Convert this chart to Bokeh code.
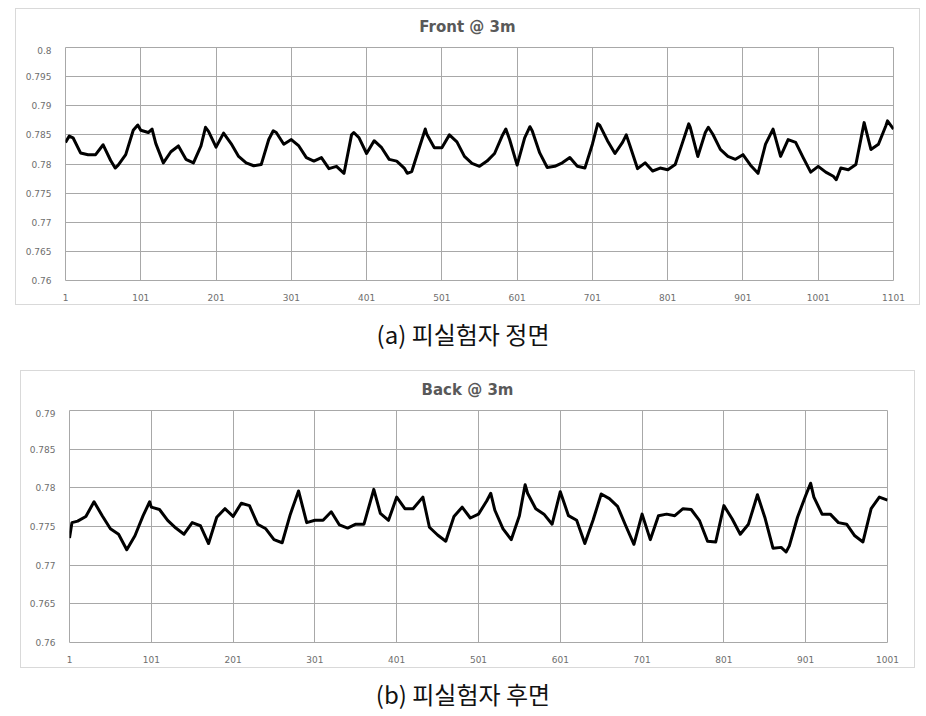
from bokeh.plotting import figure
from bokeh.models import Range1d, FixedTicker, CustomJSTickFormatter, Div
from bokeh.layouts import column
from bokeh.embed import file_html
from bokeh.resources import INLINE

# ---------------- data ----------------
front_title = "Front @ 3m"
front_caption = "(a) 피실험자 정면"
front_x = [1, 6, 11, 21, 31, 41, 51, 61, 67, 71, 81, 91, 97, 101, 111, 116, 121, 131, 141, 151,
           161, 171, 181, 187, 191, 201, 211, 221, 231, 241, 251, 261, 271, 277, 281, 291, 301,
           311, 321, 331, 341, 351, 361, 371, 381, 384, 391, 401, 411, 421, 431, 441, 451, 455,
           461, 471, 479, 481, 491, 501, 511, 521, 531, 541, 551, 561, 571, 581, 586, 591, 601,
           611, 618, 621, 631, 641, 651, 661, 671, 681, 691, 701, 708, 711, 721, 731, 741, 746,
           751, 761, 771, 781, 791, 801, 811, 821, 829, 831, 841, 851, 855, 861, 871, 881, 891,
           901, 911, 921, 931, 941, 951, 961, 971, 981, 991, 1001, 1011, 1021, 1025, 1031, 1041,
           1051, 1062, 1071, 1081, 1091, 1093, 1101]
front_y = [0.7837, 0.7848, 0.7845, 0.7819, 0.7816, 0.7816, 0.7833, 0.7806, 0.7793, 0.7798,
           0.7816, 0.7858, 0.7867, 0.7858, 0.7854, 0.7860, 0.7835, 0.7802, 0.7821, 0.7831,
           0.7808, 0.7802, 0.7831, 0.7863, 0.7856, 0.7829, 0.7853, 0.7835, 0.7813, 0.7802,
           0.7797, 0.7799, 0.7842, 0.7857, 0.7854, 0.7834, 0.7842, 0.7831, 0.7811, 0.7805,
           0.7811, 0.7792, 0.7796, 0.7784, 0.7850, 0.7854, 0.7845, 0.7818, 0.7840, 0.7828,
           0.7808, 0.7805, 0.7793, 0.7784, 0.7787, 0.7828, 0.7860, 0.7851, 0.7828, 0.7828,
           0.7850, 0.7838, 0.7813, 0.7801, 0.7796, 0.7805, 0.7818, 0.7848, 0.7860, 0.7842,
           0.7798, 0.7845, 0.7864, 0.7857, 0.7819, 0.7794, 0.7796, 0.7802, 0.7811, 0.7796,
           0.7793, 0.7834, 0.7869, 0.7866, 0.7840, 0.7818, 0.7837, 0.7850, 0.7831, 0.7792,
           0.7802, 0.7788, 0.7793, 0.7790, 0.7799, 0.7838, 0.7869, 0.7863, 0.7813, 0.7854,
           0.7863, 0.7851, 0.7825, 0.7813, 0.7808, 0.7816, 0.7798, 0.7784, 0.7834, 0.7860,
           0.7813, 0.7842, 0.7837, 0.7811, 0.7786, 0.7796, 0.7786, 0.7779, 0.7773, 0.7793,
           0.7790, 0.7799, 0.7871, 0.7825, 0.7834, 0.7866, 0.7874, 0.7860]
front_xticks = [1, 101, 201, 301, 401, 501, 601, 701, 801, 901, 1001, 1101]
front_yticks = [0.76, 0.765, 0.77, 0.775, 0.78, 0.785, 0.79, 0.795, 0.8]

back_title = "Back @ 3m"
back_caption = "(b) 피실험자 후면"
back_x = [1, 4, 11, 21, 31, 41, 51, 61, 71, 81, 91, 99, 101, 111, 121, 131, 141, 151, 161, 171,
          181, 191, 201, 211, 221, 231, 241, 251, 261, 271, 281, 291, 301, 311, 321, 331, 341,
          351, 361, 373, 381, 391, 401, 411, 421, 433, 441, 451, 461, 471, 481, 491, 501, 511,
          516, 521, 531, 541, 551, 558, 561, 571, 581, 591, 601, 611, 621, 631, 641, 651, 661,
          671, 681, 691, 701, 711, 721, 731, 741, 751, 761, 771, 781, 791, 801, 811, 821, 831,
          842, 851, 861, 871, 877, 881, 891, 901, 907, 911, 921, 931, 941, 951, 961, 971, 981,
          991, 1001]
back_y = [0.7735, 0.7755, 0.7757, 0.7763, 0.7782, 0.7764, 0.7747, 0.7740, 0.7720, 0.7738,
          0.7764, 0.7782, 0.7775, 0.7772, 0.7758, 0.7748, 0.7740, 0.7755, 0.7751, 0.7728,
          0.7762, 0.7773, 0.7763, 0.7780, 0.7777, 0.7753, 0.7747, 0.7733, 0.7729, 0.7766,
          0.7796, 0.7755, 0.7758, 0.7758, 0.7769, 0.7752, 0.7748, 0.7753, 0.7753, 0.7798,
          0.7767, 0.7758, 0.7788, 0.7773, 0.7773, 0.7788, 0.7749, 0.7739, 0.7731, 0.7763,
          0.7775, 0.7761, 0.7766, 0.7783, 0.7793, 0.7771, 0.7747, 0.7733, 0.7764, 0.7804,
          0.7793, 0.7773, 0.7766, 0.7753, 0.7795, 0.7764, 0.7758, 0.7728, 0.7758, 0.7792,
          0.7786, 0.7776, 0.7751, 0.7727, 0.7766, 0.7733, 0.7764, 0.7766, 0.7764, 0.7773,
          0.7772, 0.7758, 0.7731, 0.7730, 0.7777, 0.7760, 0.7740, 0.7753, 0.7791, 0.7762,
          0.7722, 0.7723, 0.7717, 0.7725, 0.7762, 0.7790, 0.7806, 0.7788, 0.7766, 0.7766,
          0.7755, 0.7753, 0.7738, 0.7730, 0.7773, 0.7788, 0.7784]
back_xticks = [1, 101, 201, 301, 401, 501, 601, 701, 801, 901, 1001]
back_yticks = [0.76, 0.765, 0.77, 0.775, 0.78, 0.785, 0.79]

GRID = "#a8a8a8"
LABEL = "#6e6e6e"

yfmt = CustomJSTickFormatter(code="""
    let s = tick.toFixed(3);
    s = s.replace(/0+$/, '').replace(/\\.$/, '');
    return s;
""")


def make_panel(title, xs, ys, xticks, yticks, width, height, mb, margin, title_h, title_lh):
    p = figure(width=width, height=height - title_h, output_backend="svg",
               toolbar_location=None,
               x_range=Range1d(xticks[0], xticks[-1]), y_range=Range1d(yticks[0], yticks[-1]),
               min_border_left=mb[0], min_border_right=mb[1],
               min_border_top=1, min_border_bottom=mb[3],
               margin=(0, 0, 0, 0))
    p.line(xs, ys, line_color="black", line_width=3, line_join="round")

    p.xaxis.ticker = FixedTicker(ticks=xticks)
    p.yaxis.ticker = FixedTicker(ticks=yticks)
    p.yaxis.formatter = yfmt
    for ax in (p.xaxis, p.yaxis):
        ax.axis_line_color = None
        ax.major_tick_line_color = None
        ax.minor_tick_line_color = None
        ax.major_label_text_font = "DejaVu Sans"
        ax.major_label_text_font_size = "9px"
        ax.major_label_text_color = LABEL
    p.xaxis.major_label_standoff = 7
    p.yaxis.major_label_standoff = 8
    p.xgrid.grid_line_color = GRID
    p.ygrid.grid_line_color = GRID
    p.xgrid.grid_line_width = 1
    p.ygrid.grid_line_width = 1
    p.outline_line_color = GRID
    p.background_fill_color = "white"
    p.border_fill_color = "white"

    t_style = ("text-align:center;width:%dpx;font-family:'DejaVu Sans';font-size:15px;"
               "font-weight:bold;color:#595959;line-height:%dpx;" % (width, title_lh))
    t = Div(text=f'<div style="{t_style}">{title}</div>', width=width, height=title_h,
            margin=(0, 0, 0, 0))
    box = column(t, p, spacing=0, margin=margin,
                 styles={"border": "1px solid #d9d9d9", "background": "white"})
    return box


b1 = make_panel(front_title, front_x, front_y, front_xticks, front_yticks,
                903, 295, (49, 26, 41, 24), (8, 0, 0, 15), 37, 36)
b2 = make_panel(back_title, back_x, back_y, back_xticks, back_yticks,
                893, 296, (48, 27, 43, 25), (0, 0, 0, 20), 38, 38)

cap_style = "text-align:center;width:926px;font-family:'Noto Sans CJK KR';font-size:24px;color:#111111;"
d1 = Div(text=f'<div style="{cap_style}line-height:58px;">{front_caption}</div>',
         width=926, height=65, margin=(0, 0, 0, 0))
d2 = Div(text=f'<div style="{cap_style}line-height:52px;">{back_caption}</div>',
         width=926, height=48, margin=(0, 0, 0, 0))

layout = column(b1, d1, b2, d2, spacing=0)

open("out.html", "w").write(file_html(layout, INLINE, title="Front / Back @ 3m"))
